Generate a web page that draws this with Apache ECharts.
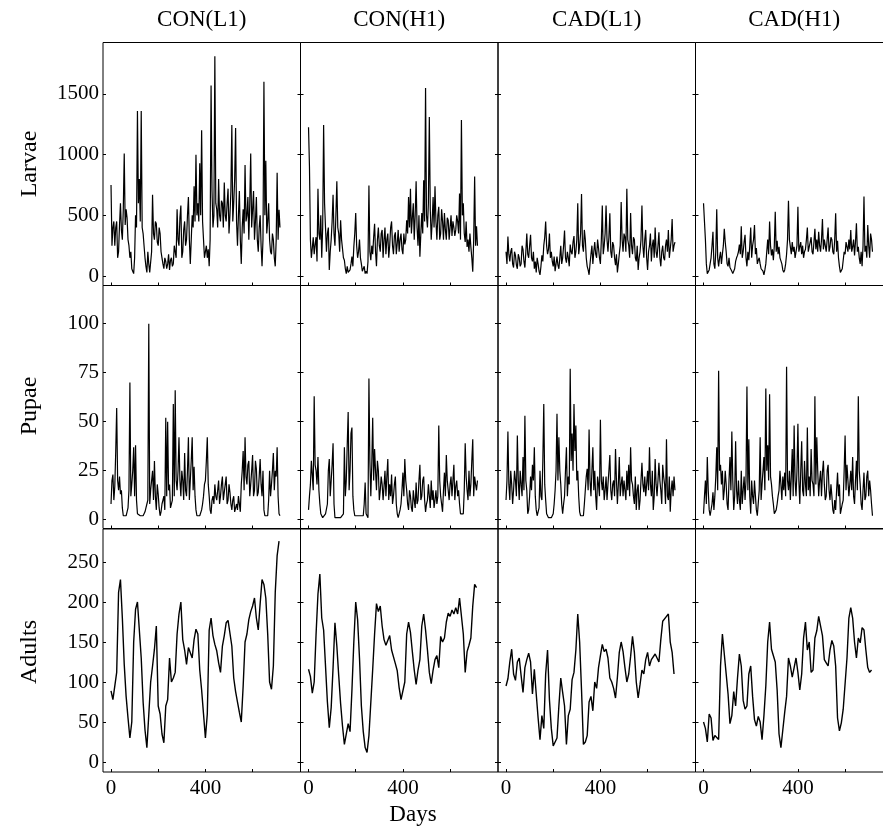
<!DOCTYPE html>
<html><head><meta charset="utf-8">
<script src="https://cdn.jsdelivr.net/npm/echarts@6/dist/echarts.min.js"></script>
<style>html,body{margin:0;padding:0;background:#fff}#c{width:883px;height:835px}</style>
</head><body><div id="c"></div>
<script>
// sampling days
const days = [0,8,16,24,32,40,48,56,64,72,80,88,96,104,112,120,128,136,144,152,160,168,176,184,192,200,208,216,224,232,240,248,256,264,272,280,288,296,304,312,320,328,336,344,352,360,368,376,384,392,400,408,416,424,432,440,448,456,464,472,480,488,496,504,512,520,528,536,544,552,560,568,576,584,592,600,608,616,624,632,640,648,656,664,672,680,688,696,704,712];
const daysMid = [4,12,20,28,36,44,52,60,68,76,84,92,100,108,116,124,132,140,148,156,164,172,180,188,196,204,212,220,228,236,244,252,260,268,276,284,292,300,308,316,324,332,340,348,356,364,372,380,388,396,404,412,420,428,436,444,452,460,468,476,484,492,500,508,516,524,532,540,548,556,564,572,580,588,596,604,612,620,628,636,644,652,660,668,676,684,692,700,708,716];

const columnNames = ['CON(L1)','CON(H1)','CAD(L1)','CAD(H1)'];
const rowNames = ['Larvae','Pupae','Adults'];

// Larvae (values on days[], and on daysMid[])
const larvaeCONL1 = [750,400,250,450,200,600,300,1010,550,300, 150,60,20,500,1360,800,1360,350,150,30, 100,20,670,300,430,250,350,150,60,120, 100,50,150,100,200,550,250,580,200,450, 300,650,100,500,740,1000,600,930,1200,300, 200,150,80,1570,400,1810,550,800,450,600, 770,450,720,500,1245,600,1220,250,700,100, 550,915,500,300,1010,550,300,650,200,500, 80,1600,950,450,300,180,300,80,850,545];
const larvaeCONL1Mid = [250,450,400,150,420,380,550,420,480,250, 200,40,150,400,600,450,400,250,80,200, 30,200,350,450,280,400,200,100,150,60, 180,130,80,250,150,300,480,150,380,250, 500,300,300,400,450,500,450,500,450,150, 250,220,300,700,500,600,400,500,620,400, 500,600,350,700,450,800,450,500,300,400, 350,450,650,600,400,700,450,300,400,250, 300,500,350,600,200,350,150,300,300,400];
const larvaeCONH1 = [1225,300,230,180,320,720,300,150,1245,400, 350,50,300,670,250,780,350,460,300,130, 20,30,50,160,240,520,150,300,100,50, 20,20,745,130,180,430,80,400,200,380, 300,180,350,250,450,180,360,270,200,350, 180,260,460,650,720,480,300,780,250,160, 520,790,1550,400,1310,300,650,740,300,570, 350,450,520,300,460,400,330,400,380,450, 680,1285,600,280,240,200,240,35,820,410];
const larvaeCONH1Mid = [900,150,320,260,120,350,500,400,600,200, 400,200,450,350,500,400,200,300,150,60, 80,20,100,80,350,250,200,150,40,80, 40,120,200,250,320,200,300,250,350,150, 400,300,150,400,250,330,180,380,300,220, 350,300,350,400,350,600,500,400,500,350, 350,450,500,600,550,450,400,450,500,300, 550,300,380,480,300,500,450,330,500,350, 300,500,350,450,300,350,150,300,250,250];
const larvaeCADL1 = [200,325,120,230,70,170,60,150,100,220, 70,350,150,340,120,60,30,100,10,170, 250,450,180,350,200,80,40,160,60,250, 150,375,110,150,260,180,330,200,600,250, 675,200,300,80,10,180,100,280,150,230, 100,580,250,580,200,517,150,250,90,30, 180,610,200,320,720,250,520,180,300,120, 50,200,580,150,380,50,250,120,300,400, 150,360,80,250,130,300,380,150,470,250];
const larvaeCADL1Mid = [100,180,200,100,200,90,180,80,250,120, 200,180,250,150,200,120,150,40,80,120, 320,250,220,150,120,160,100,90,150,100, 250,150,200,80,200,280,150,300,180,350, 250,380,150,50,100,250,200,180,300,150, 300,180,350,300,320,200,280,150,180,100, 250,300,350,200,300,150,250,320,150,250, 150,300,250,300,150,200,350,250,150,200, 250,150,200,150,250,200,150,300,200,280];
const larvaeCADH1 = [600,300,20,50,150,365,60,550,80,200, 180,390,200,80,70,40,10,120,170,260, 410,200,340,80,130,400,250,420,230,130, 100,70,10,100,300,450,170,130,530,290, 240,160,50,50,180,620,240,280,240,160, 570,240,180,150,220,400,240,320,180,390, 300,365,200,470,300,200,400,240,300,180, 517,290,80,20,130,180,240,300,380,240, 170,435,240,100,80,655,250,420,150,300];
const larvaeCADH1Mid = [450,100,20,100,250,100,200,150,150,100, 250,280,100,150,60,20,60,150,200,180, 150,280,150,200,250,150,300,180,100,150, 60,40,50,200,180,250,220,250,200,180, 150,100,30,100,300,300,180,200,150,250, 200,280,250,200,300,200,280,200,280,220, 200,250,300,220,250,300,200,320,200,300, 200,150,30,60,200,280,200,220,200,300, 280,200,150,200,250,200,150,250,350,200];

// Pupae
const pupaeCONL1 = [8,23,17,57,15,13,6,2,2,6, 70,18,37,38,3,2,2,2,4,8, 100,15,25,30,5,13,2,8,12,52, 50,18,5,59,66,15,42,12,20,34, 12,42,20,42,27,5,3,2,5,12, 20,42,12,3,12,18,10,20,12,22, 14,22,10,14,5,12,3,5,12,18, 35,42,18,30,18,33,15,26,14,31, 12,5,2,2,25,18,34,25,37,3];
const pupaeCONL1Mid = [20,10,35,20,22,15,2,2,4,15, 12,25,12,10,2,2,2,3,6,10, 8,20,10,12,18,6,4,10,5,12, 15,6,10,12,20,25,20,25,10,15, 25,10,30,15,12,2,2,3,8,18, 30,18,5,10,8,12,15,8,18,10, 18,8,18,8,10,4,8,12,4,25, 15,22,28,12,25,12,30,12,22,18, 25,2,2,10,12,25,15,22,12,2];
const pupaeCONH1 = [5,18,29,63,25,32,8,2,1,3, 8,31,20,39,1,1,1,1,1,37, 20,55,25,47,5,3,2,1,3,2, 19,3,72,12,52,36,15,25,15,18, 17,12,31,18,23,12,22,3,2,8, 24,31,15,5,12,4,10,19,10,28, 12,22,4,10,12,20,15,10,8,48, 12,4,24,33,15,18,12,28,17,12, 8,4,3,39,15,25,18,41,22,15];
const pupaeCONH1Mid = [12,30,15,28,18,15,3,1,2,2, 25,12,28,8,1,1,1,1,3,12, 38,15,44,12,2,1,1,2,1,8, 3,1,30,28,20,25,30,10,22,10, 25,22,10,12,8,18,8,1,5,15, 12,20,8,15,6,15,6,8,20,10, 20,10,8,18,6,10,6,15,12,20, 8,15,12,20,10,22,20,10,20,15, 3,2,15,22,10,12,30,12,18,20];
const pupaeCADL1 = [10,45,10,18,15,20,43,10,18,32, 53,15,5,22,28,37,5,2,25,10, 59,10,2,1,1,3,15,54,42,18, 3,12,37,22,77,44,59,48,25,4, 2,2,15,26,46,12,37,25,5,18, 51,15,10,22,18,33,10,20,36,8, 32,18,12,15,25,28,37,18,8,5, 18,10,29,14,12,25,37,12,5,31, 12,29,15,28,18,41,10,4,20,22];
const pupaeCADL1Mid = [20,18,25,8,25,12,20,25,12,15, 20,3,12,15,20,12,2,6,12,30, 18,3,1,1,2,8,25,20,25,8, 8,25,12,18,30,25,35,20,12,2, 2,8,22,15,20,25,15,12,22,12, 20,22,15,10,25,15,18,12,20,18, 12,22,20,10,15,12,20,12,22,15, 5,20,18,22,18,15,18,25,12,18, 20,20,8,22,8,12,22,15,12,15];
const pupaeCADH1 = [3,20,32,5,2,14,12,37,76,28, 25,15,18,5,32,45,5,40,8,10, 25,15,10,68,41,3,12,20,5,2, 42,18,32,67,38,64,18,8,3,8, 15,18,22,24,78,15,10,36,48,12, 49,8,40,12,18,47,22,36,18,63, 42,12,25,24,18,12,28,10,12,3, 5,24,18,2,10,43,28,12,25,32, 8,30,63,18,5,24,12,25,20,8];
const pupaeCADH1Mid = [12,8,15,2,8,5,22,15,25,18, 10,25,8,20,15,20,12,15,20,5, 8,22,20,15,12,20,8,12,2,15, 10,25,15,25,20,22,12,3,5,12, 25,10,15,12,20,25,22,12,20,25, 20,25,15,30,12,15,12,20,12,18, 25,20,12,30,10,25,15,18,5,10, 15,12,3,8,25,15,20,18,15,12, 20,15,25,8,15,10,22,12,15,2];

// Adults (values on days[])
const adultsCONL1 = [89,78,80,112,212,228,180,122,82,55, 30,50,150,191,200,201,130,75,40,18, 17,100,120,141,170,70,60,35,24,70, 78,130,100,105,112,160,185,200,153,140, 122,143,145,130,153,166,160,115,90,60, 30,60,165,180,158,147,139,124,112,145, 158,174,177,178,145,105,88,75,62,50, 95,150,160,178,188,195,205,180,165,198, 228,222,205,160,100,91,120,212,258,276];
const adultsCONH1 = [116,107,86,100,160,210,235,180,165,120, 75,43,68,118,174,145,108,73,45,22, 20,48,38,90,150,200,178,130,70,38, 18,12,33,35,116,160,198,188,195,170, 153,146,144,158,140,139,123,114,93,78, 77,100,160,175,162,138,115,97,115,128, 170,185,165,140,112,98,115,128,133,118, 157,150,155,175,186,182,190,185,193,185, 205,205,160,112,138,146,155,195,222,218];
const adultsCADL1 = [95,104,125,141,110,102,125,130,108,87, 118,128,136,125,85,116,85,55,28,58, 42,110,140,78,42,20,22,30,70,105, 87,70,22,58,66,103,112,140,185,150, 90,22,25,33,75,82,64,100,92,118, 133,147,138,141,130,105,100,92,80,106, 137,150,138,118,100,110,132,157,137,100, 80,97,115,110,128,137,120,128,130,135, 130,125,153,176,178,182,185,150,137,110];
const adultsCADH1 = [50,42,25,60,55,27,33,34,28,120, 160,135,110,85,48,58,88,70,105,135, 120,77,66,70,110,120,82,53,45,57, 50,28,58,95,150,175,141,143,125,90, 35,18,40,62,82,130,120,106,118,130, 112,90,110,155,175,140,150,112,115,155, 164,182,180,158,128,124,120,140,152,145, 120,55,39,49,66,65,130,180,193,180, 150,130,155,149,168,165,140,118,112,115];

const xTicks = [0,200,400,600];
const xTickLabels = [0,400];
const larvaeTicks = [0,500,1000,1500];
const pupaeTicks = [0,25,50,75,100];
const adultsTicks = [0,50,100,150,200,250];

const panelData = [
  [larvaeCONL1, larvaeCONH1, larvaeCADL1, larvaeCADH1],
  [pupaeCONL1, pupaeCONH1, pupaeCADL1, pupaeCADH1],
  [adultsCONL1, adultsCONH1, adultsCADL1, adultsCADH1]
];
const panelMid = [
  [larvaeCONL1Mid, larvaeCONH1Mid, larvaeCADL1Mid, larvaeCADH1Mid],
  [pupaeCONL1Mid, pupaeCONH1Mid, pupaeCADL1Mid, pupaeCADH1Mid],
  [null, null, null, null]
];
const rowTicks = [larvaeTicks, pupaeTicks, adultsTicks];
const rowRange = [[-78, 1924], [-4.5, 119.5], [-12.5, 291.25]];

const colLeft = [103, 300.5, 498, 695.5];
const colW = 197.5;
const rowTop = [42.5, 285.5, 529];
const rowH = 243;
const FONT = '"Liberation Serif", "DejaVu Serif", serif';

function buildPoints(vals, mids) {
  const pts = [];
  for (let i = 0; i < days.length; i++) {
    pts.push([days[i], vals[i]]);
    if (mids) pts.push([daysMid[i], mids[i]]);
  }
  return pts;
}

const grids = [], xAxes = [], yAxes = [], series = [];
for (let r = 0; r < 3; r++) {
  for (let c = 0; c < 4; c++) {
    const idx = r * 4 + c;
    grids.push({
      left: colLeft[c], top: rowTop[r], width: colW, height: rowH,
      show: true, borderColor: '#000', borderWidth: 1,
      outerBoundsMode: 'none'
    });
    xAxes.push({
      type: 'value', gridIndex: idx, min: -34, max: 803, position: 'bottom',
      axisLine: { show: false, onZero: false },
      splitLine: { show: false },
      axisTick: { show: true, inside: true, length: 3, customValues: xTicks, lineStyle: { color: '#000' } },
      axisLabel: {
        show: r === 2, customValues: xTickLabels, margin: 6,
        formatter: v => String(v),
        fontFamily: FONT, fontSize: 21, color: '#000'
      }
    });
    const yIdx = yAxes.length;
    yAxes.push({
      type: 'value', gridIndex: idx, min: rowRange[r][0], max: rowRange[r][1], position: 'left',
      axisLine: { show: false, onZero: false },
      splitLine: { show: false },
      axisTick: { show: true, inside: true, length: 3, customValues: rowTicks[r], lineStyle: { color: '#000' } },
      axisLabel: {
        show: c === 0, customValues: rowTicks[r], margin: 4,
        formatter: v => String(v),
        fontFamily: FONT, fontSize: 21, color: '#000'
      }
    });
    // mirrored ticks on the right edge of each panel
    yAxes.push({
      type: 'value', gridIndex: idx, min: rowRange[r][0], max: rowRange[r][1], position: 'right',
      axisLine: { show: false, onZero: false },
      splitLine: { show: false },
      axisTick: { show: true, inside: true, length: 3, customValues: rowTicks[r], lineStyle: { color: '#000' } },
      axisLabel: { show: false }
    });
    series.push({
      type: 'line', xAxisIndex: idx, yAxisIndex: yIdx,
      data: buildPoints(panelData[r][c], panelMid[r][c]),
      showSymbol: false, symbol: 'none',
      lineStyle: { color: '#000', width: r === 2 ? 1.4 : 1.2 },
      clip: true, silent: true
    });
  }
}

const graphics = [];
columnNames.forEach((t, c) => {
  graphics.push({
    type: 'text', x: colLeft[c] + colW / 2, y: 20,
    style: { text: t, fontFamily: FONT, fontSize: 23, fill: '#000', textAlign: 'center', textVerticalAlign: 'middle' }
  });
});
const rowLabelY = [164, 406, 652];
rowNames.forEach((t, r) => {
  graphics.push({
    type: 'text', x: 30, y: rowLabelY[r], rotation: Math.PI / 2,
    style: { text: t, fontFamily: FONT, fontSize: 24, fill: '#000', textAlign: 'center', textVerticalAlign: 'middle' }
  });
});
graphics.push({
  type: 'text', x: 413, y: 815,
  style: { text: 'Days', fontFamily: FONT, fontSize: 23, fill: '#000', textAlign: 'center', textVerticalAlign: 'middle' }
});

const chart = echarts.init(document.getElementById('c'), null, { renderer: 'canvas' });
chart.setOption({
  animation: false,
  backgroundColor: '#fff',
  grid: grids, xAxis: xAxes, yAxis: yAxes, series: series,
  graphic: graphics
});
</script>
</body></html>
